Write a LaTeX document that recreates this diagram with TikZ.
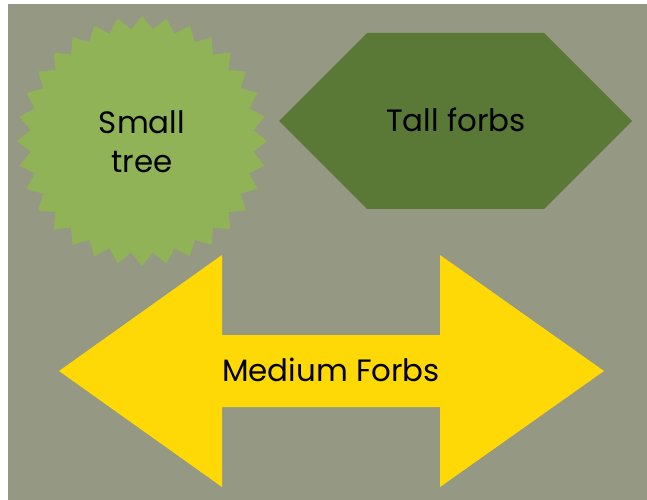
\documentclass[tikz,border=0pt]{standalone}
\usepackage{fontspec}
\setmainfont{Poppins}
\definecolor{bggray}{HTML}{959882}
\definecolor{starg}{HTML}{8FB356}
\definecolor{hexg}{HTML}{5A7836}
\definecolor{yel}{HTML}{FFD906}
\tikzset{lbl/.style={font=\fontsize{31}{39}\selectfont, text=black, align=center, inner sep=0pt}}
\begin{document}
\begin{tikzpicture}[x=1bp,y=-1bp]
\useasboundingbox (0,0) rectangle (647,500);
\fill[white] (0,0) rectangle (647,500);
\fill[bggray] (8,4) rectangle (647,500);
% starburst
\fill[starg] plot[samples=64, domain=0:63, variable=\k]
  ({142+ (mod(\k,2)==0 ? 125 : 112)*cos(90+\k*5.625)},
   {141- (mod(\k,2)==0 ? 125 : 112)*sin(90+\k*5.625)}) -- cycle;
% hexagon
\fill[hexg] (367,33) -- (544,33) -- (632,121) -- (544,209) -- (367,209) -- (279,121) -- cycle;
% double arrow
\fill[yel] (59,371) -- (222,255) -- (222,335) -- (440,335) -- (440,255) -- (604,371)
  -- (440,487) -- (440,407) -- (222,407) -- (222,487) -- cycle;
\node[lbl] (small) at (142,142) {Small\\tree};
\node[lbl] (tall) at (456,120) {Tall forbs};
\node[lbl] (medium) at (331,370) {Medium Forbs};
\end{tikzpicture}
\end{document}
